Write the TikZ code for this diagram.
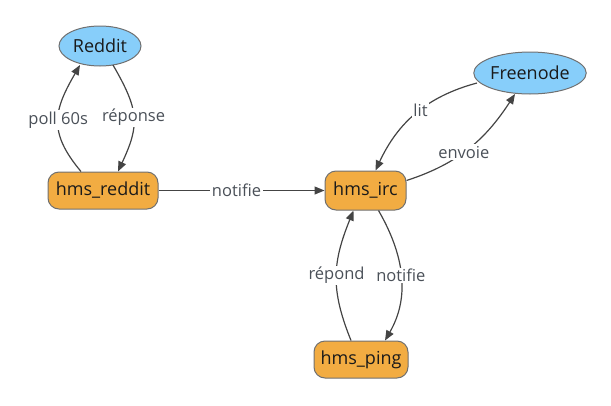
\documentclass[tikz,border=0pt]{standalone}
\usepackage{fontspec}
\setmainfont{Open Sans}
\usetikzlibrary{arrows.meta,shapes.geometric,calc}
\definecolor{skyfill}{HTML}{87CEFA}
\definecolor{orfill}{HTML}{F2AC42}
\definecolor{bordc}{HTML}{707070}
\definecolor{edgec}{HTML}{444444}
\definecolor{labc}{HTML}{4A5058}
\definecolor{txtc}{HTML}{1A1A1A}
\tikzset{
  svc/.style={ellipse,draw=bordc,fill=skyfill,line width=1pt,inner sep=0pt,text=txtc,font=\fontsize{18}{21}\selectfont},
  proc/.style={rectangle,rounded corners=11pt,draw=bordc,fill=orfill,line width=1pt,inner sep=0pt,text=txtc,font=\fontsize{18}{21}\selectfont},
  conn/.style={draw=edgec,line width=1.2pt,-{Triangle[length=10pt,width=8pt]}},
  lab/.style={fill=white,inner sep=1.5pt,text=labc,font=\fontsize{16.5}{19}\selectfont}
}
\begin{document}
\begin{tikzpicture}[x=1pt,y=-1pt]
\useasboundingbox (0,0) rectangle (611,405);
\node[svc,minimum width=82pt,minimum height=40pt] (reddit) at (100,46) {Reddit};
\node[svc,minimum width=112pt,minimum height=42pt] (free) at (530,73) {Freenode};
\node[proc,minimum width=110pt,minimum height=37pt] (hr) at (103,190.5) {hms\_reddit};
\node[proc,minimum width=81pt,minimum height=39pt] (hi) at (365.5,190.5) {hms\_irc};
\node[proc,minimum width=94pt,minimum height=37pt] (hp) at (361,359.5) {hms\_ping};

\draw[conn] ($(hr.north)+(-22,0)$) to[out=130,in=240,looseness=1.25] node[lab,pos=0.5] {poll 60s} ($(reddit.center)+(-20,19)$);
\draw[conn] ($(reddit.center)+(13,19)$) to[out=-60,in=65,looseness=1.25] node[lab,pos=0.5] {réponse} ($(hr.north)+(15,0)$);
\draw[conn] (hr.east) -- node[lab,pos=0.47] {notifie} (hi.west);
\draw[conn] ($(free.center)+(-53,10)$) to[out=195,in=65] node[lab,pos=0.45] {lit} ($(hi.north)+(10,0)$);
\draw[conn] ($(hi.east)+(0,-10)$) to[out=18,in=237] node[lab,pos=0.45] {envoie} ($(free.center)+(-15,21)$);
\draw[conn] ($(hi.south)+(13,0)$) to[out=-60,in=60] node[lab,pos=0.5] {notifie} ($(hp.north)+(24,0)$);
\draw[conn] ($(hp.north)+(-10,0)$) to[out=112,in=248,looseness=1.1] node[lab,pos=0.5] {répond} ($(hi.south)+(-12,0)$);
\end{tikzpicture}
\end{document}
